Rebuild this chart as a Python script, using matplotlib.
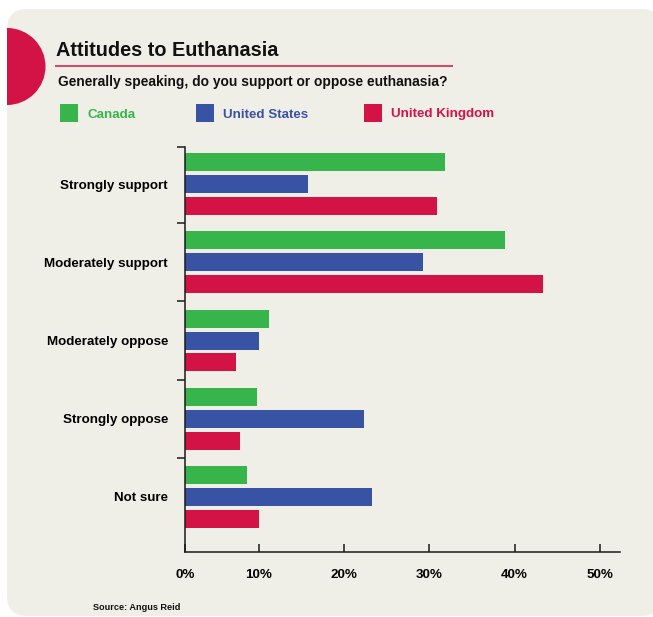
import matplotlib
matplotlib.use("Agg")
import matplotlib.pyplot as plt
from matplotlib.patches import FancyBboxPatch, Circle, Rectangle
import numpy as np

plt.rcParams['font.family'] = ['Liberation Sans', 'DejaVu Sans']
plt.rcParams['font.weight'] = 'bold'

# ---- data ----
categories = ["Strongly support", "Moderately support", "Moderately oppose",
              "Strongly oppose", "Not sure"]
series_names = ["Canada", "United States", "United Kingdom"]
canada = [31.8, 38.9, 11.2, 9.8, 8.6]
united_states = [15.8, 29.3, 10.0, 22.3, 23.3]
united_kingdom = [30.9, 43.3, 7.3, 7.8, 10.0]
tick_values = [10, 20, 30, 40, 50]
tick_labels = ["0%", "10%", "20%", "30%", "40%", "50%"]

title = "Attitudes to Euthanasia"
subtitle = "Generally speaking, do you support or oppose euthanasia?"
source = "Source: Angus Reid"

colors = ["#37B54A", "#3953A4", "#D31245"]
bg = "#F0EFE7"
W, H = 653, 617

fig = plt.figure(figsize=(W / 100, H / 100), dpi=100, facecolor="white")

# ---- decoration layer (pixel coordinates) ----
deco = fig.add_axes([0, 0, 1, 1], zorder=0)
deco.set_xlim(0, W)
deco.set_ylim(H, 0)
deco.axis("off")

card = FancyBboxPatch((7, 9), 655, 607, boxstyle="round,pad=0,rounding_size=20",
                      facecolor=bg, edgecolor="none")
deco.add_patch(card)
circ = Circle((7, 66.5), 38.5, facecolor="#D31245", edgecolor="none")
deco.add_patch(circ)
circ.set_clip_path(card)

deco.text(56.5, 56, title, fontsize=14.3, fontweight="bold", color="#111111",
          va="baseline", ha="left")
deco.plot([55, 453], [66, 66], color="#D8264F", lw=1.2, solid_capstyle="butt")
deco.text(58, 86, subtitle, fontsize=9.9, fontweight="bold", color="#111111",
          va="baseline", ha="left")

legend_x = [60, 196, 364]
for name, col, lx in zip(series_names, colors, legend_x):
    deco.add_patch(Rectangle((lx, 104), 18, 18, facecolor=col, edgecolor="none"))
    deco.text(lx + 27, 117.5, name, fontsize=9.6, fontweight="bold", color=col,
              va="baseline", ha="left")

deco.text(93, 610, source, fontsize=6.6, fontweight="bold", color="#111111",
          va="baseline", ha="left")

# ---- chart axes ----
left_px, right_px, top_px, bot_px = 185.3, 620, 146.7, 552
ax = fig.add_axes([left_px / W, 1 - bot_px / H, (right_px - left_px) / W,
                   (bot_px - top_px) / H], zorder=1)
ax.patch.set_alpha(0)

y = np.arange(len(categories))
off = 0.281
h = 0.23
for i, (vals, col) in enumerate(zip([canada, united_states, united_kingdom], colors)):
    ax.barh(y + (i - 1) * off, vals, height=h, color=col, left=0, zorder=2)

xmin, xmax = 1.4, 52.35
ytop, ybot = -0.477, 4.703
ax.set_xlim(xmin, xmax)
ax.set_ylim(ybot, ytop)

for s in ["top", "right"]:
    ax.spines[s].set_visible(False)
for s in ["left", "bottom"]:
    ax.spines[s].set_linewidth(1.1)
    ax.spines[s].set_color("#1a1a1a")
    ax.spines[s].set_zorder(3)

ax.set_xticks([xmin] + tick_values)
ax.set_xticklabels(tick_labels)
ax.tick_params(axis="x", direction="in", length=5.8, width=1.1, color="#1a1a1a",
               pad=12, labelsize=9.6)
for lbl in ax.get_xticklabels():
    lbl.set_fontweight("bold")

ax.set_yticks([ytop] + list(np.arange(0.5, len(categories) - 0.5, 1.0)))
ax.set_yticklabels([])
ax.tick_params(axis="y", which="major", direction="out", length=6.1, width=1.1,
               color="#1a1a1a")
ax.set_yticks(y, minor=True)
ax.set_yticklabels(categories, minor=True)
ax.tick_params(axis="y", which="minor", length=0, pad=12.5, labelsize=9.6)
for lbl in ax.get_yticklabels(minor=True):
    lbl.set_fontweight("bold")

fig.savefig("out.png", dpi=100, facecolor="white")
